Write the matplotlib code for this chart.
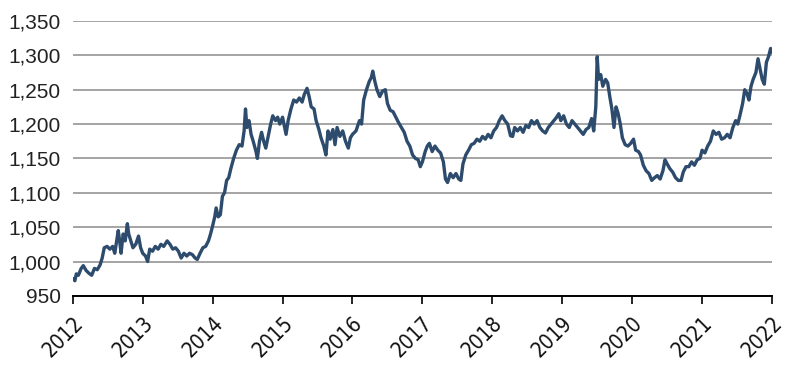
import matplotlib
matplotlib.use("Agg")
import matplotlib.pyplot as plt
from matplotlib import font_manager as fm
from matplotlib.ticker import FuncFormatter

# values (fractional year, index level)
years = [
    2012.00, 2012.03, 2012.05, 2012.08, 2012.12, 2012.15, 2012.19, 2012.23, 2012.27, 2012.31,
    2012.35, 2012.39, 2012.42, 2012.45, 2012.49, 2012.53, 2012.57, 2012.60, 2012.62, 2012.65,
    2012.67, 2012.69, 2012.72, 2012.75, 2012.78, 2012.80, 2012.83, 2012.86, 2012.90, 2012.94,
    2012.97, 2013.00, 2013.04, 2013.07, 2013.10, 2013.14, 2013.18, 2013.22, 2013.26, 2013.30,
    2013.35, 2013.39, 2013.43, 2013.47, 2013.51, 2013.55, 2013.59, 2013.63, 2013.67, 2013.71,
    2013.75, 2013.78, 2013.82, 2013.86, 2013.90, 2013.94, 2013.97, 2014.00, 2014.03, 2014.05,
    2014.08, 2014.11, 2014.14, 2014.17, 2014.20, 2014.23, 2014.26, 2014.30, 2014.34, 2014.38,
    2014.42, 2014.45, 2014.47, 2014.49, 2014.52, 2014.55, 2014.58, 2014.62, 2014.64, 2014.67,
    2014.70, 2014.73, 2014.76, 2014.79, 2014.83, 2014.86, 2014.90, 2014.93, 2014.96, 2015.00,
    2015.03, 2015.05, 2015.08, 2015.12, 2015.16, 2015.20, 2015.24, 2015.28, 2015.31, 2015.35,
    2015.38, 2015.41, 2015.45, 2015.48, 2015.52, 2015.55, 2015.59, 2015.62, 2015.65, 2015.68,
    2015.72, 2015.75, 2015.78, 2015.82, 2015.86, 2015.90, 2015.94, 2015.97, 2016.00, 2016.05,
    2016.10, 2016.13, 2016.16, 2016.20, 2016.24, 2016.27, 2016.29, 2016.32, 2016.35, 2016.39,
    2016.43, 2016.47, 2016.50, 2016.54, 2016.58, 2016.62, 2016.66, 2016.70, 2016.74, 2016.78,
    2016.82, 2016.86, 2016.90, 2016.94, 2016.97, 2017.00, 2017.04, 2017.07, 2017.10, 2017.14,
    2017.18, 2017.22, 2017.26, 2017.30, 2017.33, 2017.36, 2017.40, 2017.44, 2017.48, 2017.52,
    2017.55, 2017.58, 2017.62, 2017.66, 2017.70, 2017.74, 2017.78, 2017.82, 2017.86, 2017.90,
    2017.94, 2017.98, 2018.02, 2018.06, 2018.10, 2018.14, 2018.18, 2018.22, 2018.26, 2018.29,
    2018.32, 2018.36, 2018.40, 2018.44, 2018.48, 2018.52, 2018.56, 2018.60, 2018.64, 2018.68,
    2018.72, 2018.76, 2018.80, 2018.84, 2018.88, 2018.92, 2018.95, 2018.98, 2019.02, 2019.06,
    2019.10, 2019.14, 2019.18, 2019.22, 2019.26, 2019.30, 2019.34, 2019.38, 2019.42, 2019.45,
    2019.48, 2019.50, 2019.52, 2019.55, 2019.58, 2019.62, 2019.65, 2019.68, 2019.71, 2019.74,
    2019.77, 2019.80, 2019.83, 2019.86, 2019.90, 2019.94, 2019.98, 2020.02, 2020.05, 2020.09,
    2020.12, 2020.16, 2020.20, 2020.24, 2020.28, 2020.32, 2020.36, 2020.40, 2020.44, 2020.47,
    2020.50, 2020.54, 2020.58, 2020.62, 2020.66, 2020.70, 2020.73, 2020.77, 2020.81, 2020.85,
    2020.89, 2020.93, 2020.97, 2021.00, 2021.04, 2021.08, 2021.12, 2021.16, 2021.20, 2021.24,
    2021.28, 2021.32, 2021.36, 2021.40, 2021.44, 2021.48, 2021.51, 2021.54, 2021.58, 2021.61,
    2021.64, 2021.67, 2021.70, 2021.73, 2021.77, 2021.80, 2021.83, 2021.86, 2021.89, 2021.92,
    2021.95, 2021.98, 2022.00,
]
values = [
    975, 972, 982, 980, 990, 994, 987, 983, 980, 990,
    988, 995, 1005, 1020, 1022, 1018, 1022, 1012, 1025, 1045,
    1030, 1012, 1040, 1030, 1055, 1040, 1030, 1020, 1025, 1037,
    1020, 1012, 1008, 1000, 1018, 1015, 1022, 1018, 1025, 1022,
    1030, 1025, 1018, 1020, 1015, 1005, 1012, 1008, 1012, 1010,
    1005, 1003, 1012, 1020, 1022, 1030, 1040, 1052, 1065, 1078,
    1065, 1068, 1095, 1100, 1118, 1122, 1135, 1150, 1162, 1170,
    1168, 1190, 1222, 1195, 1205, 1185, 1175, 1160, 1150, 1175,
    1188, 1175, 1165, 1180, 1200, 1212, 1205, 1210, 1200, 1210,
    1195, 1185, 1205, 1222, 1235, 1232, 1238, 1232, 1243, 1252,
    1240, 1225, 1222, 1205, 1192, 1180, 1168, 1155, 1190, 1178,
    1192, 1170, 1195, 1182, 1190, 1175, 1165, 1180, 1185, 1190,
    1205, 1200, 1235, 1250, 1262, 1268, 1277, 1262, 1250, 1240,
    1248, 1250, 1230, 1220, 1218, 1210, 1202, 1195, 1188, 1175,
    1168, 1155, 1150, 1148, 1138, 1145, 1160, 1168, 1172, 1160,
    1168, 1162, 1158, 1145, 1120, 1115, 1128, 1122, 1128, 1120,
    1118, 1142, 1155, 1162, 1170, 1172, 1178, 1175, 1182, 1178,
    1185, 1180, 1190, 1195, 1205, 1212, 1205, 1200, 1183, 1182,
    1195, 1190, 1195, 1188, 1198, 1195, 1205, 1200, 1205, 1195,
    1190, 1187, 1195, 1200, 1205, 1210, 1215, 1205, 1212, 1200,
    1195, 1205, 1200, 1195, 1190, 1185, 1192, 1195, 1208, 1190,
    1225, 1298, 1265, 1272, 1255, 1265, 1260, 1240, 1222, 1195,
    1225, 1215, 1200, 1180, 1170, 1168, 1172, 1178, 1162, 1160,
    1155, 1140, 1132, 1128, 1118, 1122, 1125, 1120, 1132, 1148,
    1142, 1135, 1130, 1122, 1118, 1118, 1130, 1138, 1138, 1145,
    1140, 1148, 1150, 1162, 1158, 1168, 1175, 1190, 1185, 1188,
    1178, 1180, 1185, 1180, 1195, 1205, 1200, 1212, 1230, 1250,
    1245, 1235, 1255, 1265, 1275, 1295, 1280, 1265, 1258, 1290,
    1298, 1310, 1305,
]
year_ticks = list(range(2012, 2023))
y_ticks = [950, 1000, 1050, 1100, 1150, 1200, 1250, 1300, 1350]

# year labels use a narrow face in the original; pick one if installed
narrow = None
for f in fm.fontManager.ttflist:
    if "Narrow" in f.name or f.stretch in ("condensed", "semi-condensed"):
        narrow = f
        break
if narrow is not None:
    xfont = dict(family=[narrow.name, "DejaVu Sans"], stretch=narrow.stretch, fontsize=15)
else:
    xfont = dict(family=["Liberation Sans", "DejaVu Sans"], fontsize=14)

fig = plt.figure(figsize=(8, 3.68), dpi=100)
ax = fig.add_axes([0.091, 0.196, 0.874, 0.747])

ax.plot(years, values, color="#2d4b6d", lw=2.4, solid_joinstyle="round", zorder=3)

ax.set_xlim(2012, 2022)
ax.set_ylim(950, 1350)
ax.set_yticks(y_ticks)
ax.yaxis.set_major_formatter(FuncFormatter(lambda v, p: f"{int(v):,}"))
ax.set_xticks(year_ticks)
ax.set_xticklabels([str(y) for y in year_ticks], rotation=45, ha="right",
                   rotation_mode="anchor", color="#111111", **xfont)

for lab in ax.get_yticklabels():
    lab.set_family(["Liberation Sans", "DejaVu Sans"])
    lab.set_fontsize(15)
    lab.set_color("#222222")

ax.grid(axis="y", color="#8c8c8c", lw=1.1)
ax.set_axisbelow(True)
for s in ["top", "right", "left"]:
    ax.spines[s].set_visible(False)
ax.spines["bottom"].set_color("black")
ax.spines["bottom"].set_linewidth(1.4)
ax.spines["bottom"].set_zorder(4)
ax.tick_params(axis="y", length=0, pad=8.5)
ax.tick_params(axis="x", length=6, width=1.2, color="black", pad=6)

fig.savefig("out.png", dpi=100)
